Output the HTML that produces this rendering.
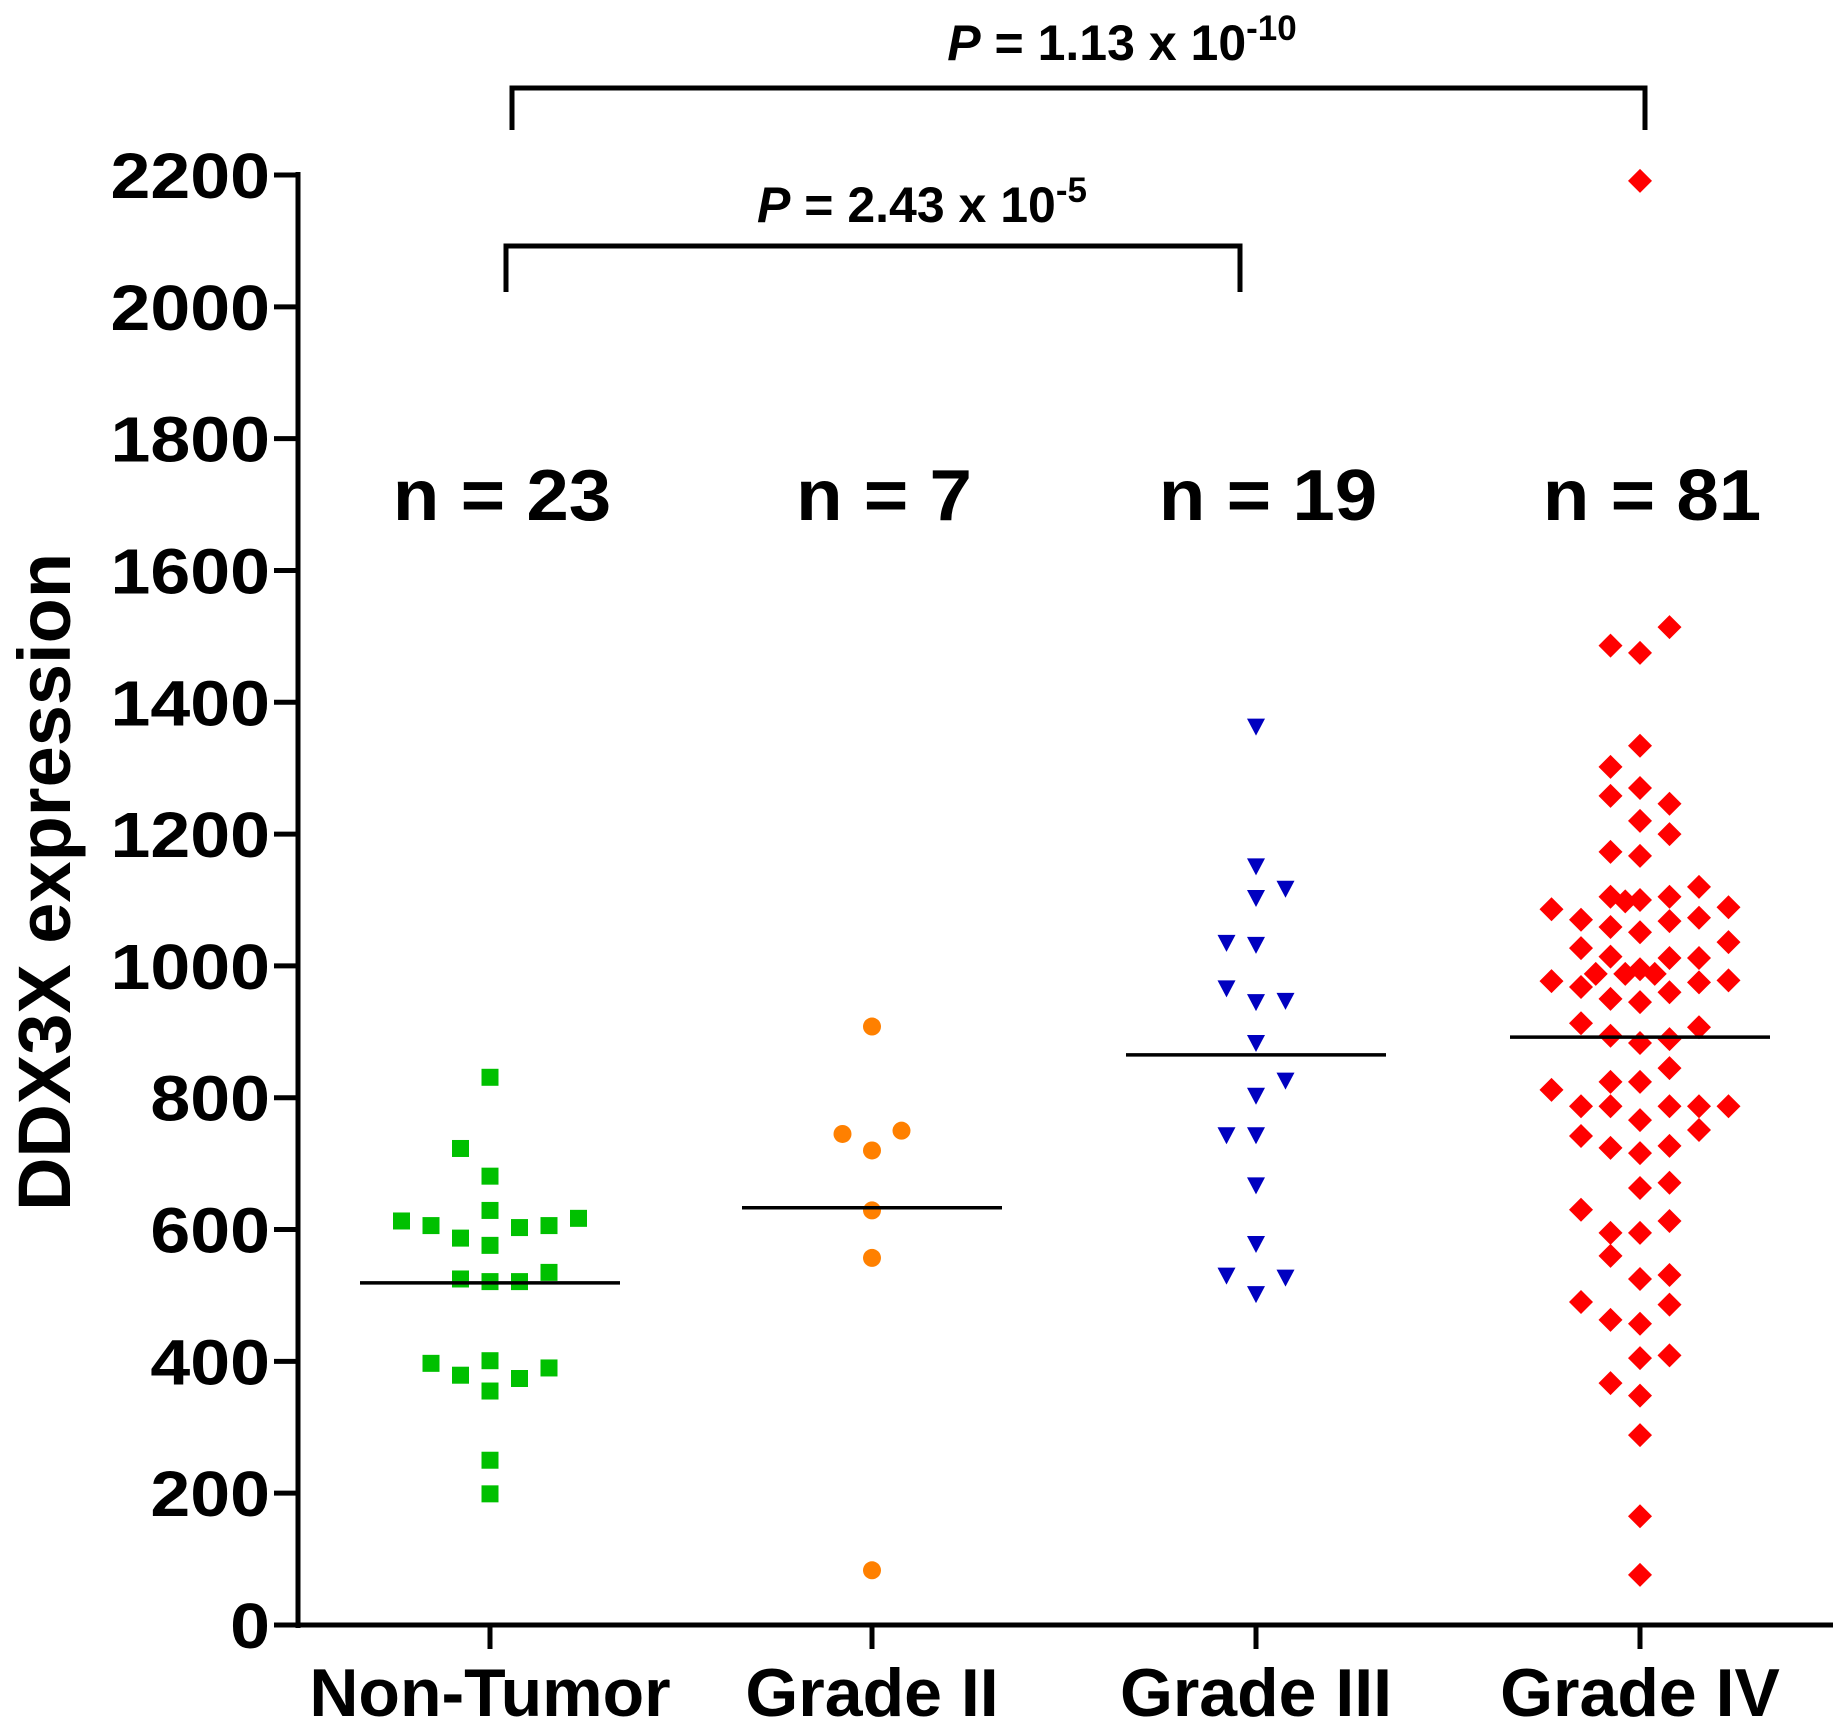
<!DOCTYPE html>
<html><head><meta charset="utf-8"><style>
html,body{margin:0;padding:0;background:#fff;}
svg{display:block;}
text{font-family:"Liberation Sans",Arial,sans-serif;font-weight:bold;fill:#000;}
</style></head><body>
<svg id="chart" width="1833" height="1724" viewBox="0 0 1833 1724" xmlns="http://www.w3.org/2000/svg"></svg>
<script>
const categories = ["Non-Tumor","Grade II","Grade III","Grade IV"];
const nLabels = ["n = 23","n = 7","n = 19","n = 81"];
const yTicks = [0,200,400,600,800,1000,1200,1400,1600,1800,2000,2200];
const medians = [519, 633, 865, 892];
const ntValues = [831,723,681,613,606,587,629,576,603,606,617,525,521,521,535,397,379,401,374,390,355,250,199];
const ntCols   = [0,-1,0,-3,-2,-1,0,0,1,2,3,-1,0,1,2,-2,-1,0,1,2,0,0,0];
const g2Values = [908,745,750,720,629,557,83];
const g2Cols   = [0,-1,1,0,0,0,0];
const g3Values = [1363,1151,1117,1103,1035,1032,966,945,947,883,826,803,743,743,667,578,530,527,502];
const g3Cols   = [0,0,1,0,-1,0,-1,0,1,0,1,0,-1,0,0,0,-1,1,0];
const g4Values = [2191,1514,1486,1475,1334,1302,1258,1270,1246,1220,1200,1173,1167,
  1105,1098,1100,1105,1120,1086,1070,1059,1051,1068,1073,1089,1036,1027,1014,1012,1012,
  988,988,995,988,977,968,975,978,950,945,960,913,907,894,883,889,
  845,824,824,812,787,787,787,787,787,766,751,742,724,727,716,663,671,630,613,595,595,560,525,531,490,486,463,457,405,409,367,348,288,165,76];
const g4Cols = [0,1,-1,0,0,-1,-1,0,1,0,1,-1,0,
  -1,-0.5,0,1,2,-3,-2,-1,0,1,2,3,3,-2,-1,1,2,
  -1.5,-0.5,0,0.5,-3,-2,2,3,-1,0,1,-2,2,-1,0,1,
  1,-1,0,-3,-2,-1,1,2,3,0,2,-2,-1,1,0,0,1,-2,1,-1,0,-1,0,1,-2,1,-1,0,0,1,-1,0,0,0,0];

const NS="http://www.w3.org/2000/svg";
const svg=document.getElementById('chart');
const X0=298, XEND=1833, Y0=1625, YTOP=175, VMAX=2200;
const catX=[490,872,1256,1640];
const colStep=29.5;
function yScale(v){return Y0-(v/VMAX)*(Y0-YTOP);}
function xScale(i,c){return catX[i]+c*colStep;}
function mk(tag,attrs){const e=document.createElementNS(NS,tag);for(const k in attrs)e.setAttribute(k,attrs[k]);svg.appendChild(e);return e;}

let e=mk('line',{x1:X0,y1:YTOP-3,x2:X0,y2:Y0+3,stroke:'#000','stroke-width':5});


e=mk('line',{x1:X0-3,y1:Y0,x2:XEND,y2:Y0,stroke:'#000','stroke-width':5});



yTicks.forEach(t=>{
  const y=yScale(t);
  let tk=mk('line',{x1:X0-24,y1:y,x2:X0,y2:y,stroke:'#000','stroke-width':5});
  
  
  let tl=mk('text',{x:X0-28,y:y+23,'text-anchor':'end','font-size':64,transform:`translate(${X0-28},0) scale(1.12,1) translate(${-(X0-28)},0)`});
  tl.textContent=t;
  
  
});

categories.forEach((c,i)=>{
  let tk=mk('line',{x1:catX[i],y1:Y0,x2:catX[i],y2:Y0+24,stroke:'#000','stroke-width':5});
  
  
  let tl=mk('text',{x:catX[i],y:1716,'text-anchor':'middle','font-size':68});
  tl.textContent=c;
  
  
  const nx=catX[i]+12;
  let nl=mk('text',{x:nx,y:520,'text-anchor':'middle','font-size':72,transform:`translate(${nx},0) scale(1.06,1) translate(${-nx},0)`});
  nl.textContent=nLabels[i];
  
  
});

let yt=mk('text',{x:0,y:0,'text-anchor':'middle','font-size':74,transform:'translate(70,882) rotate(-90)'});
yt.textContent='DDX3X expression';



function drawSquare(x,y){const s=17;const r=mk('rect',{x:x-s/2,y:y-s/2,width:s,height:s,fill:'#00c000'});
  
  }
function drawCircle(x,y){const c=mk('circle',{cx:x,cy:y,r:9,fill:'#ff8000'});
  
  }
function drawTri(x,y){const p=mk('polygon',{points:`${x-9},${y-8} ${x+9},${y-8} ${x},${y+9}`,fill:'#0000c0'});
  
  }
function drawDia(x,y){const d=12;const p=mk('polygon',{points:`${x},${y-d} ${x+d},${y} ${x},${y+d} ${x-d},${y}`,fill:'#ff0000'});
  
  }
ntValues.forEach((v,k)=>drawSquare(xScale(0,ntCols[k]),yScale(v)));
g2Values.forEach((v,k)=>drawCircle(xScale(1,g2Cols[k]),yScale(v)));
g3Values.forEach((v,k)=>drawTri(xScale(2,g3Cols[k]),yScale(v)));
g4Values.forEach((v,k)=>drawDia(xScale(3,g4Cols[k]),yScale(v)));

medians.forEach((m,i)=>{
  const l=mk('line',{x1:catX[i]-130,y1:yScale(m),x2:catX[i]+130,y2:yScale(m),stroke:'#000','stroke-width':3.5});
  
  
});

function bracket(x1,x2,y,yl,name){
  const p=mk('path',{d:`M${x1},${yl} L${x1},${y} L${x2},${y} L${x2},${yl}`,fill:'none',stroke:'#000','stroke-width':5});
  
  
}
bracket(512,1645,88,130,'p-value-bracket-iv');
bracket(506,1240,246,292,'p-value-bracket-iii');
</script>
<svg style="position:absolute;left:0;top:0" width="1833" height="300">
<text x="1122" y="60" text-anchor="middle" font-size="50"><tspan font-style="italic">P</tspan> = 1.13 x 10<tspan dy="-20" font-size="35">-10</tspan></text>
<text x="922" y="222" text-anchor="middle" font-size="50"><tspan font-style="italic">P</tspan> = 2.43 x 10<tspan dy="-20" font-size="35">-5</tspan></text>
</svg>
</body></html>
